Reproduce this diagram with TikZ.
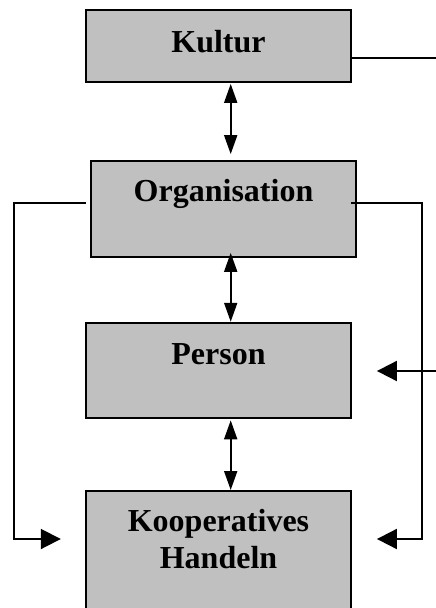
\documentclass[tikz,border=0pt]{standalone}
\usepackage{fontspec}
\setmainfont{Liberation Serif}
\usetikzlibrary{arrows.meta}
\definecolor{boxgray}{HTML}{C0C0C0}
\begin{document}
\begin{tikzpicture}[x=1pt,y=-1pt,
  box/.style={draw=black, fill=boxgray, line width=1.8pt, rectangle, inner sep=0pt, minimum width=265pt},
  lbl/.style={anchor=base, inner sep=0pt, font=\fontsize{32}{37}\selectfont\bfseries, align=center},
  line/.style={line width=1.9pt, draw=black},
  varrow/.style={line, {Triangle[length=19pt,width=13pt]}-{Triangle[length=19pt,width=13pt]}},
  harrow/.style={line, -{Triangle[length=20pt,width=20pt]}}]
\useasboundingbox (0,0) rectangle (436,608);
\clip (0,0) rectangle (436,608);

% boxes
\node[box, minimum height=72pt]   (kultur) at (218.5,46)    {};
\node[box, minimum height=96pt]   (orga)   at (223.5,209)   {};
\node[box, minimum height=95.3pt] (person) at (218.5,370.3) {};
\node[box, minimum height=134pt]  (koop)   at (218.5,557.9) {};

% labels (the two-line label is anchored on its last baseline)
\node[lbl] (tkultur) at (218.5,52)  {Kultur};
\node[lbl] (torga)   at (223.5,201.7) {Organisation};
\node[lbl] (tperson) at (218.5,364) {Person};
\node[lbl] (tkoop)   at (218.5,568.3) {Kooperatives\\Handeln};

% helper coordinates
\coordinate (ax) at (230.7,0);
\coordinate (ly) at (0,202.6);
\coordinate (kr) at (436,58);
\coordinate (pr) at (436,371);
\coordinate (lc) at (14,539);
\coordinate (rc) at (422.3,539);

% vertical double arrows
\draw[varrow, shorten <=1pt, shorten >=6pt] (kultur.south -| ax) -- (orga.north -| ax);
\draw[varrow, shorten <=-5pt] (orga.south -| ax) -- (person.north -| ax);
\draw[varrow, shorten <=1.5pt] (person.south -| ax) -- (koop.north -| ax);

% outgoing line from Kultur
\draw[line] (kultur.east |- kr) -- (kr);

% incoming arrow to Person
\draw[harrow, shorten >=25pt] (pr) -- (person.east |- pr);

% feedback loops from Organisation to Kooperatives Handeln
\draw[harrow, shorten >=24.3pt] ([xshift=-4.3pt]orga.west |- ly) -| (lc) -- (koop.west |- lc);
\draw[harrow, shorten >=25pt] ([xshift=-6pt]orga.east |- ly) -| (rc) -- (koop.east |- rc);
\end{tikzpicture}
\end{document}
